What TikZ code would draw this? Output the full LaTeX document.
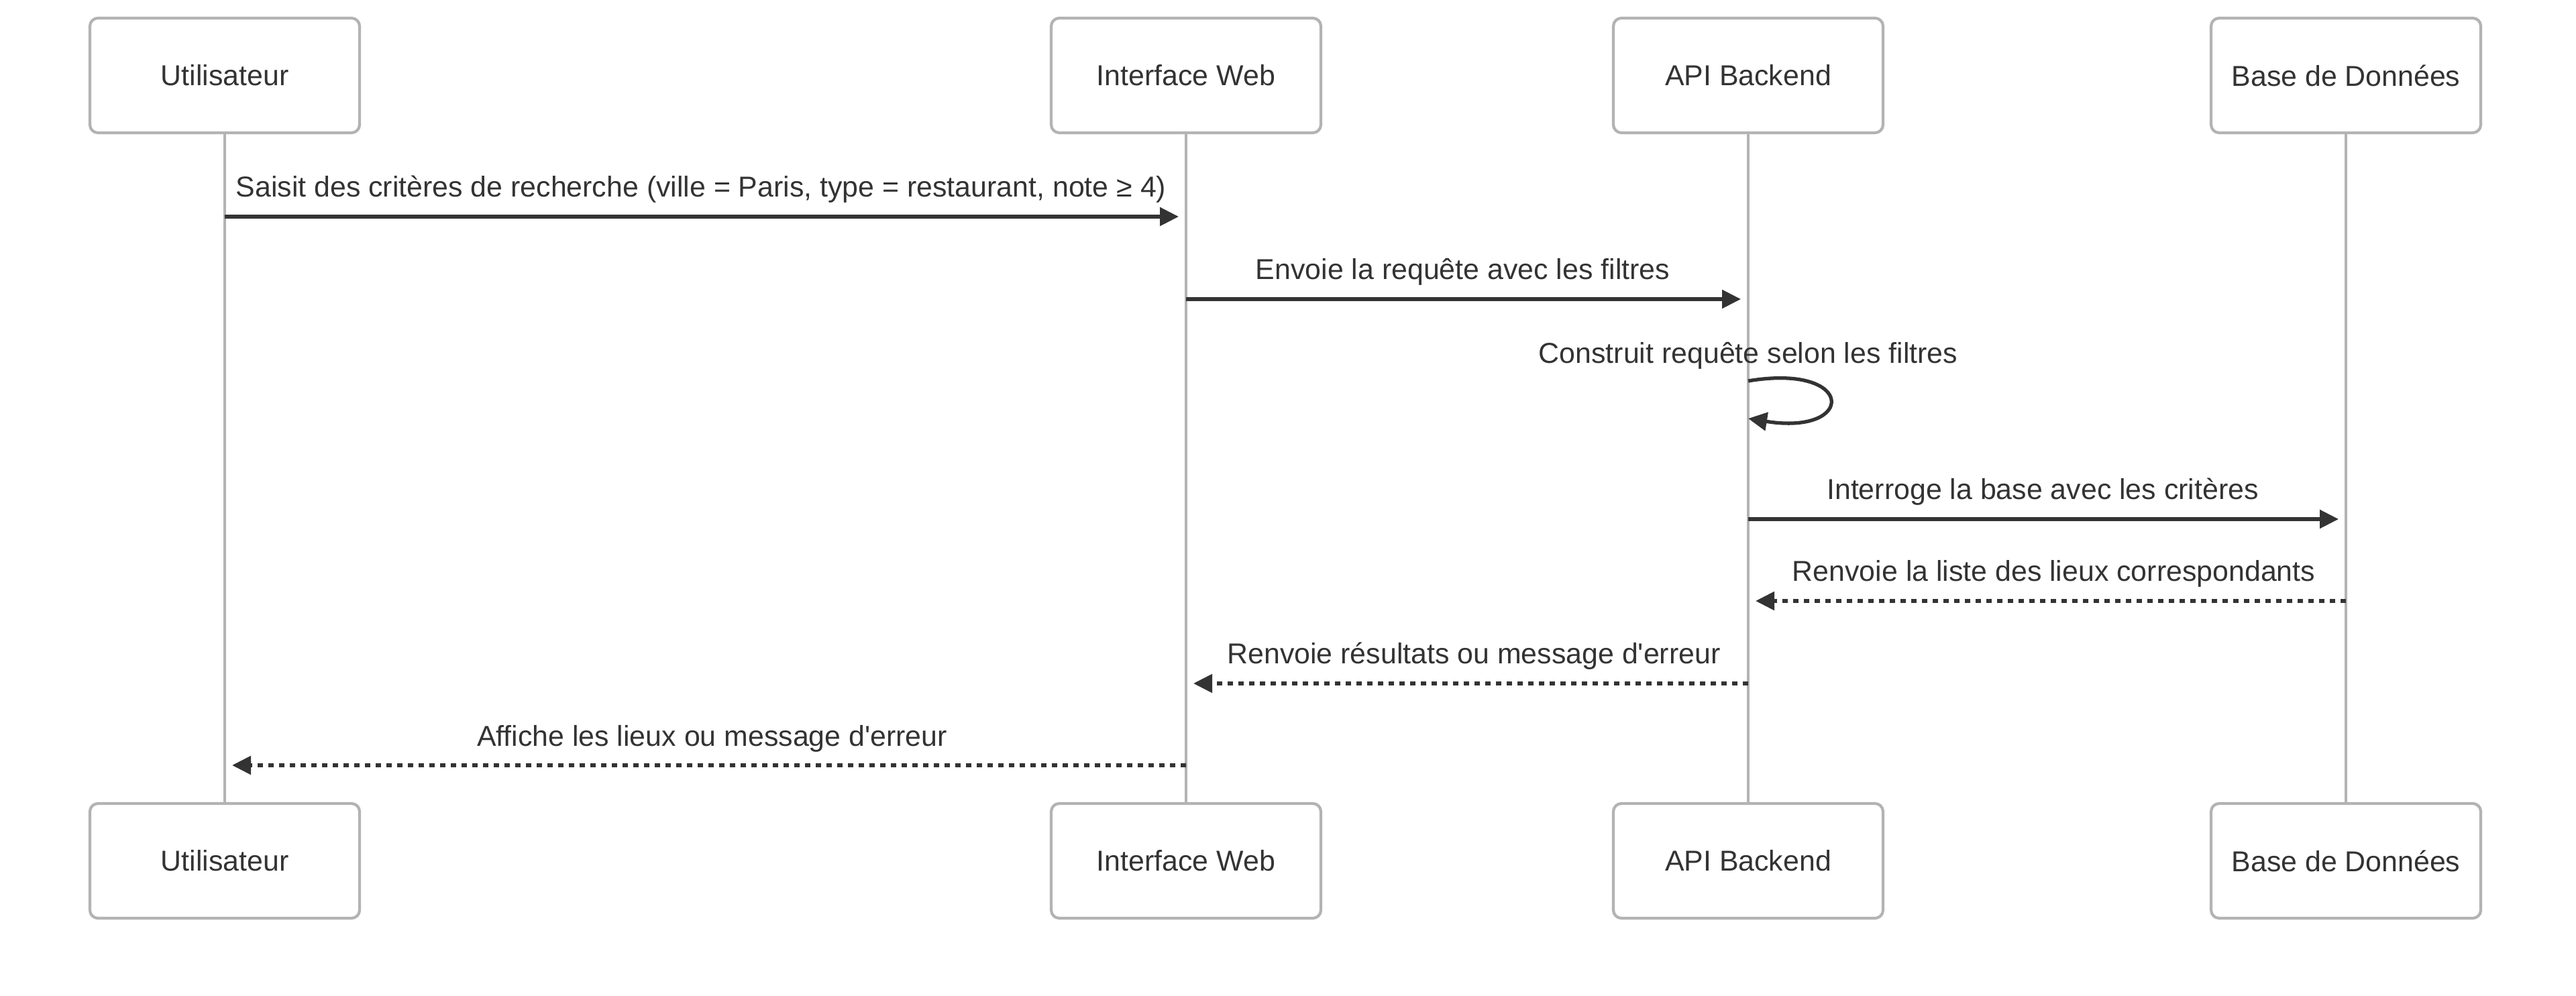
\documentclass[tikz,border=0pt]{standalone}
\usepackage{fontspec}
\setmainfont{Liberation Sans}
\usetikzlibrary{arrows.meta}

\definecolor{inkgray}{HTML}{333333}
\definecolor{linegray}{HTML}{B3B3B3}

\def\boxTop{-1.125}
\def\boxBot{-12.835}

\tikzset{
    actorbox/.style = {draw = linegray, line width = 1.2pt, fill = white,
        rounded corners = 1.2mm, minimum width = 4.02cm, minimum height = 1.71cm,
        text = inkgray, font = \fontsize{12.2}{14}\selectfont},
    lifeline/.style = {draw = linegray, line width = 1.2pt},
    msg/.style = {draw = inkgray, line width = 1.5pt,
        -{Triangle[length = 2.8mm, width = 2.7mm]}, shorten > = 1.1mm},
    reply/.style = {msg, dash pattern = on 0.8mm off 0.8mm},
    msgtext/.style = {text = inkgray, inner sep = 0pt,
        font = \fontsize{12.2}{14}\selectfont},
    msglabel/.style = {msgtext, midway, anchor = base, yshift = 2.9mm},
    msgshift/.style = {xshift = -0.65mm},
    replyshift/.style = {xshift = 1mm},
}

\begin{document}
\begin{tikzpicture}
            \useasboundingbox (0,0) rectangle (38.4,-14.85);
            % actors and their lifelines
            \foreach \name/\x/\label in {user/3.35/Utilisateur, web/17.68/Interface Web,
                api/26.06/API Backend, db/34.97/Base de Données} {
                \node [actorbox] (\name-top) at (\x,\boxTop) {\label};
                \node [actorbox] (\name-bot) at (\x,\boxBot) {\label};
                \draw [lifeline] (\name-top) -- (\name-bot);
            }
            % messages
            \foreach \from/\to/\y/\kind/\text [count = \i] in {
                user/web/3.23/msg/{Saisit des critères de recherche (ville = Paris, type = restaurant, note ≥ 4)},
                web/api/4.46/msg/{Envoie la requête avec les filtres},
                api/db/7.74/msg/{Interroge la base avec les critères},
                db/api/8.96/reply/{Renvoie la liste des lieux correspondants},
                api/web/10.19/reply/{Renvoie résultats ou message d\textquotesingle{}erreur},
                web/user/11.41/reply/{Affiche les lieux ou message d\textquotesingle{}erreur}} {
                \coordinate (m\i a) at (\from-top |- 0,-\y);
                \coordinate (m\i b) at (\to-top |- 0,-\y);
                \draw [\kind] (m\i a) -- node [msglabel, \kind shift] {\text} (m\i b);
            }
            % self call on the backend
            \coordinate (selfa) at (api-top |- 0,-5.68);
            \coordinate (selfb) at (api-top |- 0,-6.24);
            \node [msgtext, anchor = base] (selftext) at (api-top |- 0,-5.42)
                {Construit requête selon les filtres};
            \draw [msg, shorten > = 0pt]
            (selfa) .. controls +(1.61,0.27) and +(1.61,-0.26) .. (selfb)
            ;
        \end{tikzpicture}
\end{document}
